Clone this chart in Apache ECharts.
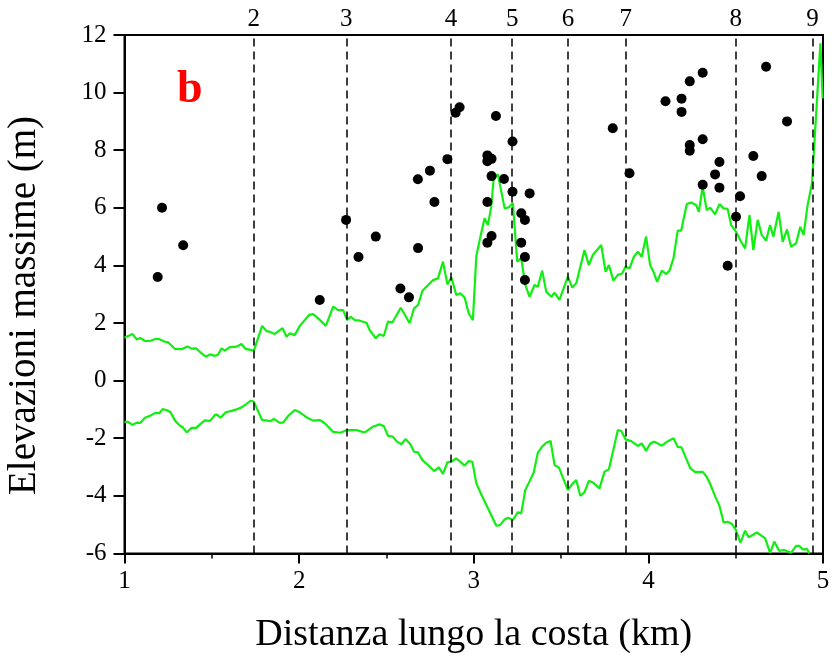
<!DOCTYPE html>
<html><head><meta charset="utf-8">
<script src="https://cdn.jsdelivr.net/npm/echarts@6/dist/echarts.min.js"></script>
<style>html,body{margin:0;padding:0;background:#fff}#c{width:832px;height:661px}</style>
</head><body><div id="c"></div>
<script>
var upperKm = [1.0,1.045,1.07,1.089,1.117,1.146,1.18,1.2,1.232,1.25,1.289,1.327,1.36,1.384,1.41,1.44,1.466,1.489,1.518,1.535,1.556,1.575,1.603,1.642,1.67,1.693,1.741,1.788,1.813,1.83,1.861,1.905,1.928,1.947,1.975,2.004,2.057,2.08,2.109,2.153,2.195,2.223,2.252,2.275,2.294,2.319,2.347,2.386,2.404,2.439,2.46,2.485,2.509,2.534,2.582,2.633,2.658,2.681,2.706,2.729,2.767,2.795,2.824,2.849,2.872,2.9,2.923,2.948,2.971,2.995,3.015,3.034,3.062,3.081,3.1,3.114,3.138,3.177,3.201,3.224,3.249,3.272,3.295,3.32,3.348,3.367,3.392,3.415,3.444,3.463,3.491,3.539,3.564,3.587,3.634,3.659,3.682,3.73,3.755,3.774,3.8,3.825,3.85,3.869,3.892,3.917,3.94,3.962,3.987,4.01,4.029,4.05,4.077,4.102,4.121,4.144,4.168,4.188,4.22,4.245,4.273,4.289,4.311,4.334,4.355,4.382,4.407,4.431,4.454,4.474,4.502,4.531,4.554,4.579,4.601,4.626,4.649,4.674,4.697,4.716,4.746,4.769,4.794,4.817,4.846,4.87,4.889,4.912,4.937,4.985,4.998];
var upperElev = [1.49,1.62,1.43,1.48,1.375,1.375,1.45,1.44,1.35,1.33,1.10,1.09,1.18,1.11,1.12,0.95,0.83,0.91,0.86,0.9,1.12,1.04,1.16,1.18,1.27,1.10,1.04,1.90,1.72,1.70,1.62,1.82,1.52,1.64,1.58,1.90,2.28,2.31,2.16,1.90,2.57,2.45,2.45,2.10,2.22,2.10,2.08,2.01,1.75,1.47,1.61,1.55,2.05,2.02,2.53,1.99,2.51,2.62,3.12,3.26,3.49,3.55,4.13,3.34,3.59,2.97,3.03,2.88,2.34,2.10,4.33,4.88,5.64,5.40,6.04,6.99,7.17,5.98,6.02,6.16,4.13,4.25,3.32,2.91,3.32,3.26,3.82,3.09,2.91,3.05,2.80,3.61,3.23,3.38,4.53,4.01,4.36,4.71,3.78,4.01,3.47,3.67,3.72,3.95,3.90,4.30,4.48,4.30,5.00,4.01,3.78,3.43,3.82,3.70,3.82,4.25,5.21,5.21,6.13,6.18,6.10,5.86,6.73,5.92,6.00,5.77,6.13,5.98,5.96,5.40,5.17,4.82,4.59,5.75,4.53,5.58,5.06,4.86,5.40,5.00,5.86,4.82,5.25,4.65,4.77,5.34,5.06,6.10,6.85,11.71,9.80];
var lowerKm = [1.0,1.02,1.045,1.07,1.09,1.117,1.146,1.175,1.2,1.218,1.24,1.264,1.289,1.318,1.335,1.356,1.384,1.41,1.432,1.46,1.49,1.518,1.53,1.55,1.58,1.613,1.642,1.67,1.699,1.722,1.74,1.788,1.81,1.836,1.855,1.889,1.91,1.937,1.975,2.004,2.042,2.08,2.118,2.147,2.195,2.237,2.271,2.328,2.376,2.423,2.46,2.485,2.509,2.535,2.561,2.586,2.609,2.637,2.658,2.68,2.706,2.738,2.773,2.8,2.824,2.849,2.875,2.9,2.923,2.948,2.971,2.992,3.015,3.04,3.072,3.1,3.129,3.15,3.177,3.196,3.224,3.253,3.272,3.295,3.32,3.343,3.367,3.392,3.415,3.44,3.463,3.488,3.51,3.539,3.564,3.587,3.61,3.634,3.659,3.685,3.72,3.749,3.774,3.825,3.845,3.869,3.902,3.94,3.962,3.987,4.012,4.035,4.077,4.108,4.144,4.168,4.19,4.216,4.241,4.268,4.311,4.334,4.359,4.383,4.407,4.431,4.454,4.479,4.502,4.527,4.554,4.574,4.597,4.621,4.669,4.697,4.721,4.749,4.778,4.817,4.846,4.865,4.884,4.909,4.922];
var lowerElev = [-1.43,-1.43,-1.54,-1.46,-1.47,-1.29,-1.22,-1.13,-1.13,-0.99,-1.02,-1.10,-1.39,-1.57,-1.63,-1.80,-1.64,-1.64,-1.52,-1.38,-1.40,-1.19,-1.18,-1.29,-1.10,-1.05,-1.00,-0.93,-0.81,-0.70,-0.73,-1.37,-1.38,-1.41,-1.33,-1.47,-1.45,-1.23,-1.02,-1.10,-1.27,-1.39,-1.37,-1.48,-1.78,-1.81,-1.72,-1.72,-1.80,-1.60,-1.52,-1.58,-1.92,-1.94,-2.12,-2.21,-2.03,-2.21,-2.47,-2.49,-2.76,-2.93,-3.14,-3.01,-3.24,-2.84,-2.80,-2.70,-2.82,-2.95,-2.79,-2.82,-3.57,-3.91,-4.32,-4.67,-5.04,-5.02,-4.82,-4.76,-4.84,-4.57,-4.61,-3.80,-3.49,-3.20,-2.50,-2.29,-2.16,-2.10,-2.93,-3.02,-3.36,-3.80,-3.59,-3.45,-4.00,-3.88,-3.48,-3.55,-3.74,-3.16,-3.08,-1.72,-1.75,-2.04,-2.10,-2.27,-2.18,-2.44,-2.18,-2.12,-2.26,-2.12,-2.00,-2.30,-2.32,-2.70,-3.05,-3.18,-3.17,-3.34,-3.66,-4.03,-4.35,-4.93,-4.90,-4.98,-5.19,-5.63,-5.21,-5.44,-5.36,-5.27,-5.48,-5.98,-5.59,-5.91,-5.88,-5.98,-5.74,-5.74,-5.86,-5.85,-6.0];
var dotKm = [1.19,1.215,1.336,2.118,2.269,2.34,2.439,2.58,2.629,2.681,2.68,2.749,2.775,2.849,2.896,2.919,3.078,3.102,3.078,3.102,3.173,3.127,3.222,3.222,3.32,3.078,3.272,3.293,3.078,3.102,3.272,3.293,3.293,3.796,3.892,4.098,4.19,4.19,4.237,4.311,4.674,4.237,4.237,4.311,4.407,4.382,4.407,4.311,4.601,4.649,4.794,4.525,4.502,4.454];
var dotElev = [3.6,6.0,4.7,2.8,5.58,4.29,5.0,3.2,2.89,4.6,6.99,7.29,6.2,7.69,9.30,9.49,7.82,7.70,7.62,7.1,7.0,9.19,8.3,6.56,6.5,6.2,5.81,5.58,4.79,5.02,4.79,4.29,3.49,8.76,7.2,9.70,9.79,9.33,10.39,10.69,10.9,8.18,7.98,8.38,7.59,7.16,6.70,6.80,7.80,7.10,9.0,6.40,5.69,3.99];
var sectionKm = [1.741,2.271,2.874,3.224,3.541,3.869,4.502,4.937];
var sectionLabels = ['2','3','4','5','6','7','8','9'];
var xTicks = [1,2,3,4,5];
var yTicks = [-6,-4,-2,0,2,4,6,8,10,12];

function pairs(a,b){return a.map(function(v,i){return [v,b[i]];});}
var FONT = 'Liberation Serif';
var chart = echarts.init(document.getElementById('c'));
chart.setOption({
  animation:false,
  backgroundColor:'#fff',
  grid:{left:124.5,right:9,top:35,bottom:107.6,containLabel:false,outerBoundsMode:'none',
    show:true,borderColor:'#000',borderWidth:2,backgroundColor:'transparent'},
  xAxis:{type:'value',min:xTicks[0],max:xTicks[xTicks.length-1],interval:1,
    name:'Distanza lungo la costa (km)',nameLocation:'middle',nameGap:63,
    nameTextStyle:{fontFamily:FONT,fontSize:38,color:'#000'},
    axisLine:{show:true,onZero:false,lineStyle:{color:'#000',width:2}},
    axisTick:{show:true,inside:false,length:10,lineStyle:{color:'#000',width:2}},
    minorTick:{show:true,splitNumber:2,length:5,lineStyle:{color:'#000',width:1.5}},
    axisLabel:{fontFamily:FONT,fontSize:25,color:'#000',margin:16},
    splitLine:{show:false}},
  yAxis:{type:'value',min:yTicks[0],max:yTicks[yTicks.length-1],interval:2,
    axisLine:{show:true,onZero:false,lineStyle:{color:'#000',width:2}},
    axisTick:{show:true,inside:false,length:11,lineStyle:{color:'#000',width:2}},
    axisLabel:{fontFamily:FONT,fontSize:25,color:'#000',margin:18},
    splitLine:{show:false}},
  graphic:[
    {type:'text',left:177,top:67,style:{text:'b',fill:'#ff0000',font:'bold 46px "Liberation Serif"'}},
    {type:'text',x:25,y:305.5,rotation:Math.PI/2,
      style:{text:'Elevazioni massime (m)',fill:'#000',font:'39px "Liberation Serif"',textAlign:'center',textVerticalAlign:'middle'}}
  ],
  series:[
    {type:'line',data:pairs(upperKm,upperElev),showSymbol:false,symbol:'none',
      lineStyle:{color:'#11ee11',width:2.2},z:2,
      markLine:{silent:true,symbol:['none','none'],animation:false,
        lineStyle:{color:'#000',type:[8,5],width:1.5},
        label:{show:true,position:'end',distance:3,fontFamily:FONT,fontSize:25,color:'#000',
          formatter:function(p){return p.name;}},
        data:sectionKm.map(function(v,i){return {xAxis:v,name:sectionLabels[i]};})}},
    {type:'line',data:pairs(lowerKm,lowerElev),showSymbol:false,symbol:'none',
      lineStyle:{color:'#11ee11',width:2.2},z:2},
    {type:'scatter',data:pairs(dotKm,dotElev),symbol:'circle',symbolSize:10,
      itemStyle:{color:'#000',opacity:1},z:3}
  ]
});
</script></body></html>
